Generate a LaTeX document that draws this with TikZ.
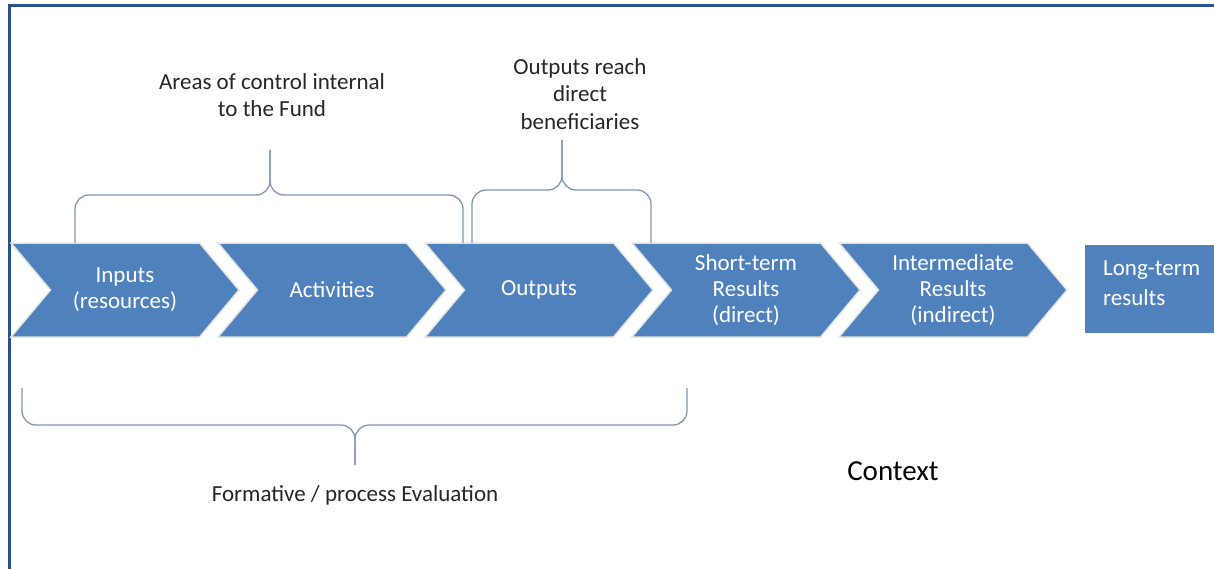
\documentclass[tikz,border=0pt]{standalone}
\usepackage{fontspec}
\setmainfont{Carlito}
\usetikzlibrary{shapes.symbols}

\definecolor{chevblue}{RGB}{79,129,189}
\definecolor{frameblue}{RGB}{41,82,140}
\definecolor{bracegray}{RGB}{128,150,181}

\tikzset{
	chev/.style={shape=signal, signal from=west, signal to=east, signal pointer angle=100,
		fill=chevblue, draw=white!90!black, line width=1.5pt,
		minimum width=228pt, minimum height=94pt, inner sep=0pt,
		text=white, align=center, font=\fontsize{23}{26}\selectfont},
	longtext/.style={text=white, align=left, inner sep=0pt, font=\fontsize{23}{30}\selectfont},
	bracket/.style={draw=bracegray, line width=1.3pt, rounded corners=14pt},
	note/.style={align=center, text=black!85, font=\fontsize{23}{27.5}\selectfont}
}

\begin{document}
\begin{tikzpicture}[x=1pt, y=-1pt]
	\useasboundingbox (0,0) rectangle (1214,569);
	\clip (0,0) rectangle (1214,569);
	% frame
	\draw[frameblue, line width=3pt] (9,569) -- (9,6) -- (1214,6);
	% chevrons
	\node[chev] (inputs) at (125,290) {Inputs\\(resources)};
	\node[chev] (activities) at (332,290) {Activities};
	\node[chev] (outputs) at (539,290) {Outputs};
	\node[chev] (shortterm) at (746,290) {Short-term\\Results\\(direct)};
	\node[chev] (intermediate) at (953,290) {Intermediate\\Results\\(indirect)};
	% last box, cut by the page edge
	\fill[chevblue] (1085,245) rectangle (1230,333);
	\node[longtext, anchor=west] (longterm) at (1103,283) {Long-term\\results};
	% labels
	\node[note] (areas) at (272,95) {Areas of control internal\\to the Fund};
	\node[note] (reach) at (580,94) {Outputs reach\\direct\\beneficiaries};
	\node[note] (formative) at (355,495) {Formative / process Evaluation};
	\node[font=\fontsize{29}{34}\selectfont] (context) at (893,471) {Context};
	% braces
	\draw[bracket] (75,243) |- (270,195) -- (270,150);
	\draw[bracket] (463,243) |- (270,195) -- (270,150);
	\draw[bracket] (472,243) |- (562,190) -- (562,140);
	\draw[bracket] (651,243) |- (562,190) -- (562,140);
	\draw[bracket] (22,388) |- (355,425) -- (355,465);
	\draw[bracket] (687,388) |- (355,425) -- (355,465);
\end{tikzpicture}
\end{document}
